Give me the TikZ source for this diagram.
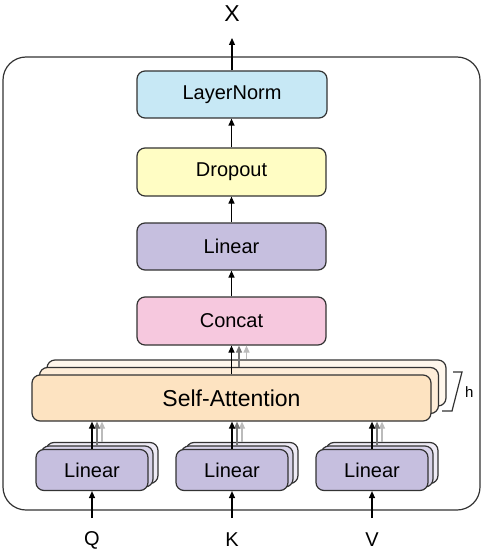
\documentclass[tikz,border=0pt]{standalone}
\usepackage{fontspec}
\setmainfont{Liberation Sans}
\usetikzlibrary{arrows.meta}
\definecolor{edge}{HTML}{333333}
\definecolor{cLN}{HTML}{C7E8F5}
\definecolor{cDO}{HTML}{FFFDC4}
\definecolor{cLin}{HTML}{C6BFDF}
\definecolor{cLinB}{HTML}{D9D4EA}
\definecolor{cLinC}{HTML}{EEEBF5}
\definecolor{cCC}{HTML}{F6C8DE}
\definecolor{cSA}{HTML}{FDE3C1}
\definecolor{cSAB}{HTML}{FEEDD8}
\definecolor{cSAC}{HTML}{FFF7EC}
\definecolor{gA}{HTML}{777777}
\definecolor{gB}{HTML}{BBBBBB}
\tikzset{
  box/.style={draw=edge, line width=1.2bp, rounded corners=8bp, inner sep=0pt,
    font=\fontsize{20bp}{24bp}\selectfont},
  mainbox/.style={box, minimum width=189bp, minimum height=47bp},
  sabox/.style={box, minimum width=399bp, minimum height=46bp, font=\fontsize{23bp}{27bp}\selectfont},
  linbox/.style={box, minimum width=112bp, minimum height=41bp, fill=cLin},
  arr/.style={draw=black, line width=1.2bp, -{Triangle[length=7bp,width=6bp]}},
  garrA/.style={arr, draw=gA, -{Triangle[length=7bp,width=6bp,fill=gA]}},
  garrB/.style={arr, draw=gB, -{Triangle[length=7bp,width=6bp,fill=gB]}},
  lbl/.style={inner sep=0pt, font=\fontsize{20bp}{24bp}\selectfont},
}
\begin{document}
\begin{tikzpicture}[x=1bp, y=-1bp]
\useasboundingbox (0,0) rectangle (485,550);
% outer frame
\draw[edge, line width=1.2bp, rounded corners=23bp] (3,57) rectangle (480,510);

% main stack
\node[mainbox, fill=cLN, minimum width=190bp] (ln) at (232,94.5) {LayerNorm};
\node[mainbox, fill=cDO, minimum height=48bp] (do) at (231.5,172) {Dropout};
\node[mainbox, fill=cLin] (lin) at (231.5,246.5) {Linear};
\node[mainbox, fill=cCC, minimum height=48bp] (cc) at (231.5,321) {Concat};

% self-attention stack
\node[sabox, fill=cSAC] (sa3) at (246.5,383) {};
\node[sabox, fill=cSAB] (sa2) at (239,390.5) {};
\node[sabox, fill=cSA] (sa) at (231.5,398) {Self-Attention};

% linear stacks
\foreach \n/\x in {q/92, k/232, v/372}{
  \node[linbox, fill=cLinC] (l\n3) at (\x+10,463) {};
  \node[linbox, fill=cLinB] (l\n2) at (\x+5,466.5) {};
  \node[linbox] (l\n) at (\x,470) {Linear};
}

% labels
\node[lbl, font=\fontsize{23bp}{27bp}\selectfont] (X) at (232,14) {X};
\node[lbl] (Q) at (92,540) {Q};
\node[lbl] (K) at (232,540) {K};
\node[lbl] (V) at (372,540) {V};

% arrows in main stack
\draw[arr] (ln.north) -- (X.south |- 0,38) coordinate (xa);
\draw[arr] (do.north) -- (do.north |- ln.south);
\draw[arr] (lin.north) -- (lin.north |- do.south);
\draw[arr] (cc.north) -- (cc.north |- lin.south);

% SA to concat
\draw[garrB] (sa3.north) -- (sa3.north |- cc.south);
\draw[garrA] (sa2.north) -- (sa2.north |- cc.south);
\draw[arr] (sa.north) -- (sa.north |- cc.south);

% linear to SA and inputs
\foreach \n/\t in {q/Q, k/K, v/V}{
  \draw[garrB] (l\n3.north) -- (l\n3.north |- sa.south);
  \draw[garrA] (l\n2.north) -- (l\n2.north |- sa.south);
  \draw[arr] (l\n.north) -- (l\n.north |- sa.south);
  \draw[arr] (l\n.south |- 0,518) coordinate (in\n) -- (l\n.south);
}

% h bracket
\draw[edge, line width=1.2bp] (442,411) -- (452,411) -- (462,372) -- (453,372);
\node[lbl, anchor=west, font=\fontsize{15bp}{18bp}\selectfont] (h) at (465,392) {h};
\end{tikzpicture}
\end{document}
